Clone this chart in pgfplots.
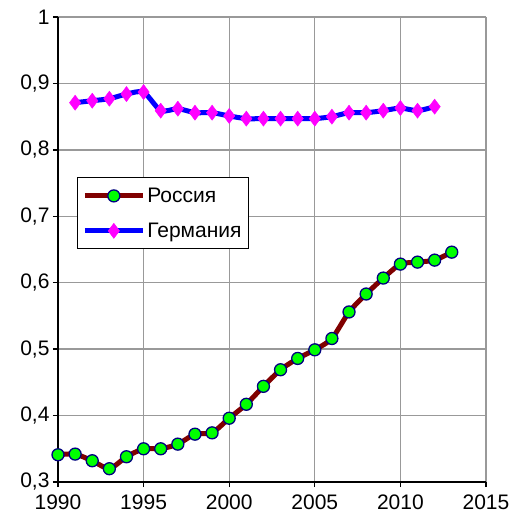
\documentclass[border=0pt]{standalone}
\usepackage{fontspec}
\setmainfont{Liberation Sans}
\usepackage{pgfplots}
\pgfplotsset{compat=1.18}
\definecolor{rusline}{RGB}{128,0,0}
\definecolor{rusmark}{RGB}{0,255,0}
\definecolor{rusedge}{RGB}{0,0,128}
\definecolor{gerline}{RGB}{0,0,255}
\definecolor{germark}{RGB}{255,0,255}
\begin{document}
\begin{tikzpicture}[x=1pt,y=1pt]
\path (-58pt,-38pt) rectangle (454pt,482pt);
\begin{axis}[
  at={(0pt,0pt)}, anchor=origin,
  scale only axis, width=428pt, height=465pt,
  xmin=1990, xmax=2015, ymin=0.3, ymax=1,
  xtick={1990,1995,...,2015},
  ytick={0.3,0.4,...,1.01},
  axis lines*=left,
  axis line style={black, line width=1.3pt},
  tick align=outside, major tick length=5pt,
  tick style={black, line width=1.3pt},
  xtick pos=bottom, ytick pos=left,
  grid=major,
  major grid style={black!40, line width=1.3pt},
  /pgf/number format/assume math mode=true,
  ticklabel style={font=\fontsize{21}{24}\selectfont},
  xticklabel style={/pgf/number format/1000 sep={}, yshift=-4pt},
  yticklabel style={/pgf/number format/.cd, fixed, precision=1, use comma},
  legend style={at={(0.044,0.655)}, anchor=north west, draw=black, line width=1pt,
    font=\fontsize{21}{24}\selectfont, row sep=15pt, inner xsep=5pt, inner ysep=8pt,
    cells={anchor=west}},
  legend image code/.code={
    \draw[mark repeat=2,mark phase=2,#1] plot coordinates {(0pt,0pt)(29pt,0pt)(58pt,0pt)};
  },
  clip=false,
]
\addplot[rusline, line width=5pt, smooth, tension=0.4, mark=*,
  mark options={fill=rusmark, draw=rusedge, line width=1.3pt}, mark size=6pt] coordinates {
(1990,0.341)(1991,0.342)(1992,0.332)(1993,0.320)(1994,0.338)(1995,0.350)
(1996,0.350)(1997,0.357)(1998,0.372)(1999,0.374)(2000,0.396)(2001,0.417)
(2002,0.444)(2003,0.469)(2004,0.486)(2005,0.499)(2006,0.516)(2007,0.556)
(2008,0.583)(2009,0.607)(2010,0.628)(2011,0.631)(2012,0.634)(2013,0.646)
};
\addlegendentry{Россия}
\addplot[gerline, line width=5pt, smooth, tension=0.4, mark=diamond*,
  mark options={fill=germark, draw=germark, line width=0.5pt}, mark size=7.5pt] coordinates {
(1991,0.871)(1992,0.874)(1993,0.877)(1994,0.884)(1995,0.887)(1996,0.859)
(1997,0.862)(1998,0.856)(1999,0.856)(2000,0.851)(2001,0.847)(2002,0.847)
(2003,0.847)(2004,0.847)(2005,0.847)(2006,0.850)(2007,0.856)(2008,0.856)
(2009,0.859)(2010,0.863)(2011,0.859)(2012,0.865)
};
\addlegendentry{Германия}
\end{axis}
\end{tikzpicture}
\end{document}
